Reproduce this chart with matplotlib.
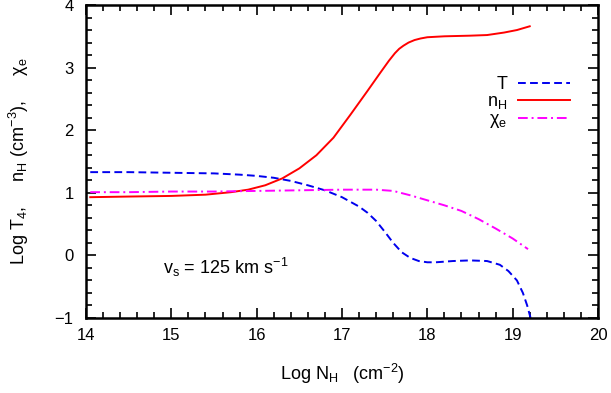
import matplotlib
matplotlib.use("Agg")
import matplotlib.pyplot as plt
from matplotlib.ticker import MultipleLocator

plt.rcParams['font.family'] = ['Liberation Sans', 'DejaVu Sans']
plt.rcParams['mathtext.fontset'] = 'custom'
plt.rcParams['mathtext.rm'] = 'Liberation Sans'
plt.rcParams['mathtext.it'] = 'Liberation Sans'
plt.rcParams['mathtext.sf'] = 'Liberation Sans'

# Data
t_x = [14.05, 14.5, 15.0, 15.5, 15.8, 16.0, 16.2, 16.4, 16.6, 16.8, 17.0, 17.2, 17.3,
       17.4, 17.5, 17.6, 17.7, 17.8, 17.9, 18.0, 18.1, 18.3, 18.5, 18.7, 18.85, 18.95,
       19.05, 19.12, 19.17, 19.21]
t_y = [1.33, 1.33, 1.32, 1.31, 1.29, 1.27, 1.24, 1.19, 1.12, 1.04, 0.93, 0.78, 0.68,
       0.55, 0.38, 0.20, 0.05, -0.04, -0.09, -0.11, -0.11, -0.09, -0.08, -0.09, -0.15,
       -0.25, -0.40, -0.60, -0.80, -1.0]

nh_x = [14.05, 14.5, 15.0, 15.4, 15.7, 15.9, 16.1, 16.3, 16.5, 16.7, 16.9, 17.1, 17.3,
        17.45, 17.55, 17.62, 17.67, 17.72, 17.78, 17.85, 17.92, 18.0, 18.2, 18.5, 18.7,
        18.9, 19.05, 19.2]
nh_y = [0.93, 0.94, 0.95, 0.97, 1.01, 1.05, 1.12, 1.23, 1.39, 1.60, 1.88, 2.25, 2.63,
        2.92, 3.11, 3.23, 3.30, 3.35, 3.40, 3.44, 3.465, 3.485, 3.50, 3.51, 3.52,
        3.56, 3.60, 3.66]

xe_x = [14.05, 14.5, 15.0, 15.5, 16.0, 16.5, 17.0, 17.4, 17.6, 17.8, 18.0, 18.2, 18.4,
        18.6, 18.8, 19.0, 19.18]
xe_y = [1.01, 1.01, 1.02, 1.02, 1.03, 1.04, 1.05, 1.05, 1.03, 0.96, 0.88, 0.80, 0.71,
        0.58, 0.43, 0.27, 0.10]

labels = ['T', r'n$_\mathregular{H}$', '\u03c7$_\\mathregular{e}$']

fig = plt.figure(figsize=(6.11, 3.93), dpi=100)
ax = fig.add_axes([86/611, 75/393, 512/611, 313/393])

ax.plot(t_x, t_y, color='#0000ee', lw=1.4, dashes=(4, 2.2), label=labels[0])
ax.plot(nh_x, nh_y, color='#ff0000', lw=1.4, label=labels[1])
ax.plot(xe_x, xe_y, color='#ff00ff', lw=1.4, dashes=(5, 2, 1, 2), label=labels[2])

ax.set_xlim(14, 20)
ax.set_ylim(-1, 4)
ax.xaxis.set_major_locator(MultipleLocator(1))
ax.xaxis.set_minor_locator(MultipleLocator(0.2))
ax.yaxis.set_major_locator(MultipleLocator(1))
ax.yaxis.set_minor_locator(MultipleLocator(0.2))
ax.tick_params(which='both', direction='in', top=True, right=True, labelsize=12,
               width=1.2)
ax.tick_params(which='major', length=7)
ax.tick_params(which='minor', length=4)
ax.tick_params(axis='x', which='major', pad=7)
ax.tick_params(axis='y', which='major', pad=9)
for s in ax.spines.values():
    s.set_linewidth(1.8)

ax.set_yticks([-1, 0, 1, 2, 3, 4])
ax.set_yticklabels(['\u22121', '0', '1', '2', '3', '4'])

ax.set_xlabel('Log N$_\\mathregular{H}$   (cm$^\\mathregular{-2}$)', fontsize=13, labelpad=14)
ax.set_ylabel('Log T$_\\mathregular{4}$,     n$_\\mathregular{H}$ (cm$^\\mathregular{-3}$),     \u03c7$_\\mathregular{e}$',
              fontsize=13, labelpad=17)

ax.text(14.9, -0.2, r'v$_\mathregular{s}$ = 125 km s$^\mathregular{-1}$', fontsize=13,
        va='center', ha='left')

leg = ax.legend(loc='upper right', bbox_to_anchor=(0.96, 0.795), frameon=False,
                markerfirst=False, fontsize=13, handlelength=2.9, labelspacing=0.0,
                handletextpad=0.6, borderaxespad=0)
for t in leg.get_texts():
    t.set_ha('right')

fig.savefig('out.png', dpi=100)
